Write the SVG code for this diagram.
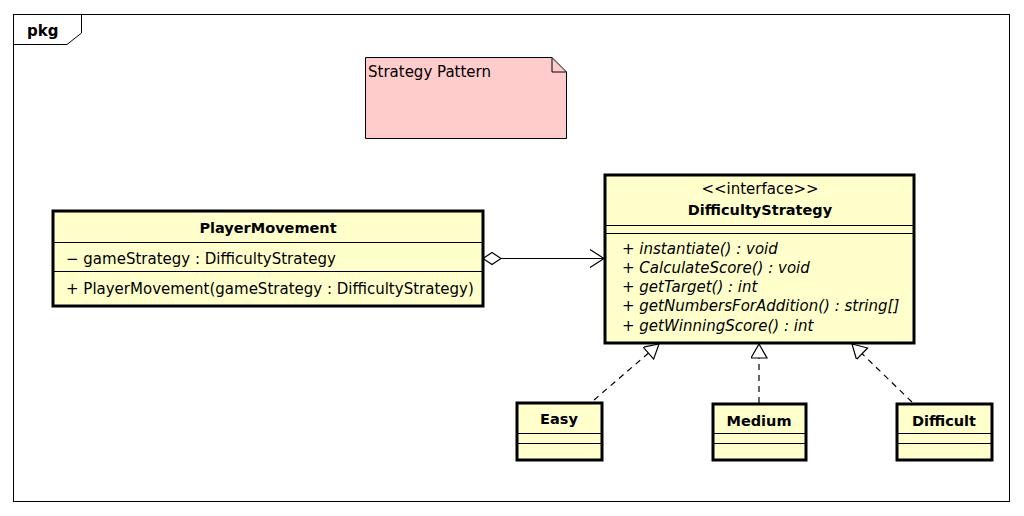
<svg xmlns="http://www.w3.org/2000/svg" width="1024" height="516" viewBox="0 0 1024 516">
  <style>
    text { font-family: "DejaVu Sans", "Liberation Sans", sans-serif; font-size: 15px; fill: #000; }
    .name { font-weight: bold; font-size: 14.5px; text-anchor: middle; }
    .op { font-style: italic; }
    .mid { text-anchor: middle; }
    .cls { fill: #ffffcc; stroke: #000; stroke-width: 3; }
    .div { stroke: #000; stroke-width: 1; }
    .edge { fill: none; stroke: #000; stroke-width: 1.2; }
    .dash { stroke-dasharray: 6 5; }
  </style>
  <defs>
    <marker id="tri" markerUnits="userSpaceOnUse" markerWidth="20" markerHeight="20" refX="15" refY="8" orient="auto">
      <path d="M1,0 L15,8 L1,16 Z" fill="#fff" stroke="#000" stroke-width="1.2"/>
    </marker>
    <marker id="open" markerUnits="userSpaceOnUse" markerWidth="20" markerHeight="22" refX="15" refY="10" orient="auto">
      <path d="M1,1 L15,10 L1,19" fill="none" stroke="#000" stroke-width="1.2"/>
    </marker>
    <marker id="dia" markerUnits="userSpaceOnUse" markerWidth="22" markerHeight="16" refX="1" refY="7" orient="auto">
      <path d="M1,7 L10,1 L19,7 L10,13 Z" fill="#fff" stroke="#000" stroke-width="1.2"/>
    </marker>
  </defs>

  <rect width="1024" height="516" fill="#fff"/>

  <!-- package frame -->
  <g id="pkg">
    <rect x="13.5" y="14.5" width="996" height="487" fill="none" stroke="#000" stroke-width="1"/>
    <path d="M13.5,44.5 L67,44.5 L81.5,33 L81.5,14.5" fill="none" stroke="#000" stroke-width="1"/>
    <text x="27" y="36" style="font-weight:bold">pkg</text>
  </g>

  <!-- note -->
  <g id="note">
    <path d="M365.5,57.5 L552,57.5 L566.5,72 L566.5,138.5 L365.5,138.5 Z" fill="#ffcccc" stroke="#000" stroke-width="1"/>
    <path d="M552,57.5 L552,72 L566.5,72" fill="none" stroke="#000" stroke-width="1"/>
    <text x="368" y="77">Strategy Pattern</text>
  </g>

  <!-- connectors -->
  <g id="connectors">
    <line class="edge" x1="483" y1="258.5" x2="604" y2="258.5" marker-start="url(#dia)" marker-end="url(#open)"/>
    <line class="edge dash" x1="594" y1="400" x2="659" y2="344" marker-end="url(#tri)"/>
    <line class="edge dash" x1="759" y1="403" x2="759" y2="344" marker-end="url(#tri)"/>
    <line class="edge dash" x1="912" y1="402" x2="852" y2="344" marker-end="url(#tri)"/>
  </g>

  <g id="PlayerMovement">
    <rect class="cls" x="53" y="211" width="430" height="95"/>
    <line class="div" x1="53" y1="242.5" x2="483" y2="242.5"/>
    <line class="div" x1="53" y1="271.5" x2="483" y2="271.5"/>
    <text class="name" x="268" y="233">PlayerMovement</text>
    <text x="66" y="264">− gameStrategy : DifficultyStrategy</text>
    <text x="66" y="294">+ PlayerMovement(gameStrategy : DifficultyStrategy)</text>
  </g>

  <g id="DifficultyStrategy">
    <rect class="cls" x="605" y="175" width="309" height="168"/>
    <line class="div" x1="605" y1="225.5" x2="914" y2="225.5"/>
    <line class="div" x1="605" y1="233.5" x2="914" y2="233.5"/>
    <text class="mid" x="760" y="194">&lt;&lt;interface&gt;&gt;</text>
    <text class="name" x="760" y="215">DifficultyStrategy</text>
    <text class="op" x="622" y="254">+ instantiate() : void</text>
    <text class="op" x="622" y="273">+ CalculateScore() : void</text>
    <text class="op" x="622" y="292">+ getTarget() : int</text>
    <text class="op" x="622" y="311">+ getNumbersForAddition() : string[]</text>
    <text class="op" x="622" y="331">+ getWinningScore() : int</text>
  </g>

  <g id="Easy">
    <rect class="cls" x="517" y="403" width="85" height="57"/>
    <line class="div" x1="517" y1="433.5" x2="602" y2="433.5"/>
    <line class="div" x1="517" y1="443.5" x2="602" y2="443.5"/>
    <text class="name" x="559" y="424">Easy</text>
  </g>

  <g id="Medium">
    <rect class="cls" x="713" y="404" width="93" height="56"/>
    <line class="div" x1="713" y1="433.5" x2="806" y2="433.5"/>
    <line class="div" x1="713" y1="443.5" x2="806" y2="443.5"/>
    <text class="name" x="759" y="426">Medium</text>
  </g>

  <g id="Difficult">
    <rect class="cls" x="897" y="404" width="95" height="56"/>
    <line class="div" x1="897" y1="433.5" x2="992" y2="433.5"/>
    <line class="div" x1="897" y1="443.5" x2="992" y2="443.5"/>
    <text class="name" x="944" y="426">Difficult</text>
  </g>
</svg>
